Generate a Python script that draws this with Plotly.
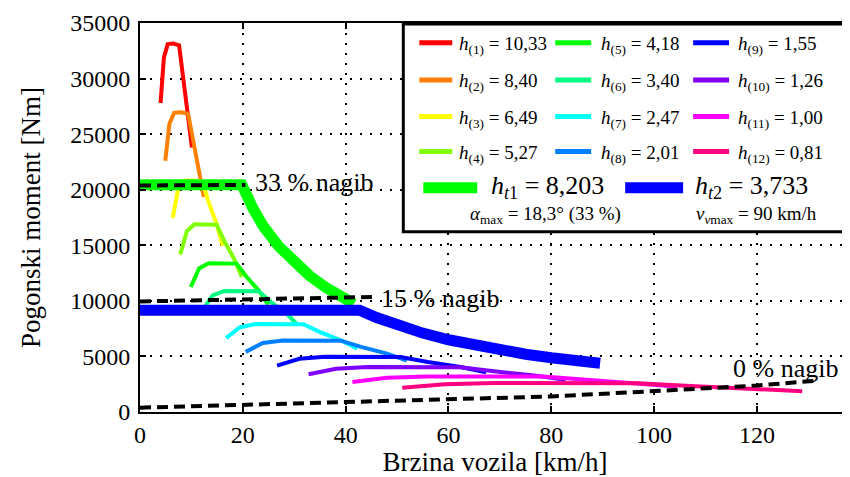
import plotly.graph_objects as go

# ---------------- data ----------------
gear_labels = ["(1)", "(2)", "(3)", "(4)", "(5)", "(6)", "(7)", "(8)", "(9)", "(10)", "(11)", "(12)"]
gear_ratio_text = ["10,33", "8,40", "6,49", "5,27", "4,18", "3,40", "2,47", "2,01", "1,55", "1,26", "1,00", "0,81"]
gear_colors = ["#FF0000", "#FF8000", "#FFFF00", "#80FF00", "#00FF00", "#00FF80",
               "#00FFFF", "#0080FF", "#0000FF", "#8000FF", "#FF00FF", "#FF0080"]

v_g1 = [4.0, 4.65, 5.4, 6.5, 7.6, 8.4, 9.35, 10.1]
T_g1 = [27800, 31900, 33100, 33150, 33000, 30000, 27000, 23800]
v_g2 = [4.92, 5.72, 6.64, 7.99, 9.35, 10.33, 11.50, 12.42]
T_g2 = [22610, 25940, 26920, 26960, 26840, 24400, 21960, 19350]
v_g3 = [6.37, 7.40, 8.60, 10.35, 12.10, 13.37, 14.88, 16.08]
T_g3 = [17470, 20040, 20800, 20830, 20730, 18850, 16960, 14950]
v_g4 = [7.84, 9.11, 10.58, 12.74, 14.90, 16.47, 18.33, 19.80]
T_g4 = [14180, 16270, 16890, 16910, 16840, 15300, 13770, 12140]
v_g5 = [9.89, 11.49, 13.35, 16.06, 18.78, 20.76, 23.11, 24.96]
T_g5 = [11250, 12910, 13390, 13410, 13350, 12140, 10930, 9630]
v_g6 = [12.15, 14.13, 16.41, 19.75, 23.09, 25.52, 28.41, 30.69]
T_g6 = [9150, 10500, 10890, 10910, 10860, 9870, 8890, 7830]
v_g7 = [16.73, 19.45, 22.58, 27.18, 31.78, 35.13, 39.10, 42.24]
T_g7 = [6650, 7630, 7920, 7930, 7890, 7170, 6460, 5690]
v_g8 = [20.56, 23.90, 27.75, 33.41, 39.06, 43.17, 48.05, 51.91]
T_g8 = [5410, 6210, 6440, 6450, 6420, 5840, 5250, 4630]
v_g9 = [26.66, 30.99, 35.99, 43.32, 50.65, 55.98, 62.31, 67.31]
T_g9 = [4170, 4790, 4970, 4970, 4950, 4500, 4050, 3570]
v_g10 = [32.79, 38.12, 44.27, 53.29, 62.31, 68.87, 76.65, 82.80]
T_g10 = [3390, 3890, 4040, 4040, 4030, 3660, 3290, 2900]
v_g11 = [41.32, 48.03, 55.78, 67.15, 78.51, 86.77, 96.59, 104.33]
T_g11 = [2690, 3090, 3200, 3210, 3200, 2900, 2610, 2300]
v_g12 = [51.01, 59.30, 68.87, 82.90, 96.92, 107.13, 119.24, 128.81]
T_g12 = [2180, 2500, 2600, 2600, 2590, 2350, 2120, 1870]

gear_speeds = [v_g1, v_g2, v_g3, v_g4, v_g5, v_g6, v_g7, v_g8, v_g9, v_g10, v_g11, v_g12]
gear_torques = [T_g1, T_g2, T_g3, T_g4, T_g5, T_g6, T_g7, T_g8, T_g9, T_g10, T_g11, T_g12]

ht1_v = [0, 19.8, 22, 24, 27, 30, 33, 36, 39, 41.6]
ht1_T = [20450, 20450, 18300, 16700, 14900, 13450, 12250, 11250, 10400, 9750]
ht2_v = [0, 42.7, 46, 50, 55, 60, 65, 70, 75, 80, 85, 89.5]
ht2_T = [9160, 9160, 8500, 7800, 7100, 6500, 6000, 5580, 5200, 4880, 4600, 4380]

grade33_v = [0, 20.5]
grade33_T = [20380, 20430]
grade15_v = [0, 15, 30, 45.5]
grade15_T = [9950, 10080, 10200, 10350]
grade0_v = [0, 20, 40, 60, 80, 100, 120, 131]
grade0_T = [390, 640, 890, 1120, 1400, 1880, 2380, 2800]

x_ticks = [0, 20, 40, 60, 80, 100, 120]
y_ticks = [0, 5000, 10000, 15000, 20000, 25000, 30000, 35000]

# ---------------- figure ----------------
SERIF = "Liberation Serif, Times New Roman, serif"
fig = go.Figure()

for v, T, c in zip(gear_speeds, gear_torques, gear_colors):
    fig.add_trace(go.Scatter(x=v, y=T, mode="lines", line=dict(color=c, width=4),
                             showlegend=False, hoverinfo="skip"))

fig.add_trace(go.Scatter(x=ht1_v, y=ht1_T, mode="lines", line=dict(color="#00FF00", width=11),
                         showlegend=False, hoverinfo="skip"))
fig.add_trace(go.Scatter(x=ht2_v, y=ht2_T, mode="lines", line=dict(color="#0000FF", width=11),
                         showlegend=False, hoverinfo="skip"))

for v, T in [(grade33_v, grade33_T), (grade15_v, grade15_T), (grade0_v, grade0_T)]:
    fig.add_trace(go.Scatter(x=v, y=T, mode="lines",
                             line=dict(color="black", width=4, dash="11px,6px"),
                             showlegend=False, hoverinfo="skip"))

# grade labels
for txt, xv, yv in [("33 % nagib", 21.9, 20650), ("15 % nagib", 46.4, 10250), ("0 % nagib", 115.0, 3950)]:
    fig.add_annotation(x=xv, y=yv, xref="x", yref="y", text=txt, showarrow=False, align="left",
                       xanchor="left", yanchor="middle", font=dict(family=SERIF, size=26, color="black"))

# reference-picture pixel positions -> paper coordinates
Lr, Rr, Tr, Br = 139.5, 850.0, 23.0, 412.5


def PX(xp):
    return (xp - Lr) / (Rr - Lr)


def PY(yp):
    return (Br - yp) / (Br - Tr)


# legend box
fig.add_shape(type="rect", xref="paper", yref="paper", x0=PX(403), x1=PX(870), y0=PY(232), y1=PY(24),
              line=dict(color="black", width=3), fillcolor="white", layer="above")

col_line = [(419, 452), (555, 591), (693, 729)]
col_text = [457, 599, 736]
row_y = [42.7, 80, 116.7, 151.7]
for i in range(12):
    c, r = i // 4, i % 4
    fig.add_shape(type="line", xref="paper", yref="paper",
                  x0=PX(col_line[c][0]), x1=PX(col_line[c][1]), y0=PY(row_y[r]), y1=PY(row_y[r]),
                  line=dict(color=gear_colors[i], width=5), layer="above")
    fig.add_annotation(xref="paper", yref="paper", x=PX(col_text[c]), y=PY(row_y[r] + 2),
                       text="<i>h</i><sub>%s</sub> = %s" % (gear_labels[i], gear_ratio_text[i]),
                       showarrow=False, xanchor="left", yanchor="middle", align="left",
                       font=dict(family=SERIF, size=19, color="black"))

fig.add_shape(type="line", xref="paper", yref="paper", x0=PX(423), x1=PX(477), y0=PY(188), y1=PY(188),
              line=dict(color="#00FF00", width=11), layer="above")
fig.add_shape(type="line", xref="paper", yref="paper", x0=PX(625), x1=PX(683), y0=PY(188), y1=PY(188),
              line=dict(color="#0000FF", width=11), layer="above")
fig.add_annotation(xref="paper", yref="paper", x=PX(489), y=PY(187.5), xanchor="left", yanchor="middle",
                   text="<i>h</i><sub><i>t</i>1</sub> = 8,203", showarrow=False, align="left",
                   font=dict(family=SERIF, size=26, color="black"))
fig.add_annotation(xref="paper", yref="paper", x=PX(693), y=PY(187.5), xanchor="left", yanchor="middle",
                   text="<i>h</i><sub><i>t</i>2</sub> = 3,733", showarrow=False, align="left",
                   font=dict(family=SERIF, size=26, color="black"))
fig.add_annotation(xref="paper", yref="paper", x=PX(468), y=PY(215), xanchor="left", yanchor="middle",
                   text="<i>α</i><sub>max</sub> = 18,3° (33 %)", showarrow=False, align="left",
                   font=dict(family=SERIF, size=19, color="black"))
fig.add_annotation(xref="paper", yref="paper", x=PX(694), y=PY(215), xanchor="left", yanchor="middle",
                   text="<i>v</i><sub><i>v</i>max</sub> = 90 km/h", showarrow=False, align="left",
                   font=dict(family=SERIF, size=19, color="black"))

axis_common = dict(
    showline=True, linecolor="black", linewidth=2,
    ticks="inside", ticklen=6, tickwidth=1.5, tickcolor="black",
    showgrid=True, gridcolor="black", griddash="2px,8px", gridwidth=1.5,
    zeroline=False, tickfont=dict(family=SERIF, size=24, color="black"),
)

fig.update_xaxes(range=[0, 138.1], tickvals=x_ticks, mirror="allticks", ticklabelstandoff=0,
                 title=dict(text="Brzina vozila [km/h]", font=dict(family=SERIF, size=27, color="black"),
                            standoff=7),
                 **axis_common)
fig.update_yaxes(range=[0, 35000], tickvals=y_ticks, tickformat="d", mirror=False, ticklabelstandoff=3,
                 title=dict(text="Pogonski moment [Nm]", font=dict(family=SERIF, size=27, color="black"),
                            standoff=22),
                 **axis_common)

# the page body keeps an 8 px default margin, so the figure is 8 px smaller on each axis
OFF = 8
fig.update_layout(width=850 - OFF, height=477 - OFF,
                  margin=dict(l=Lr - OFF, r=0, t=Tr - OFF, b=477 - Br, autoexpand=False),
                  plot_bgcolor="white", paper_bgcolor="white", showlegend=False,
                  font=dict(family=SERIF, color="black"))

fig.write_html("out.html")
